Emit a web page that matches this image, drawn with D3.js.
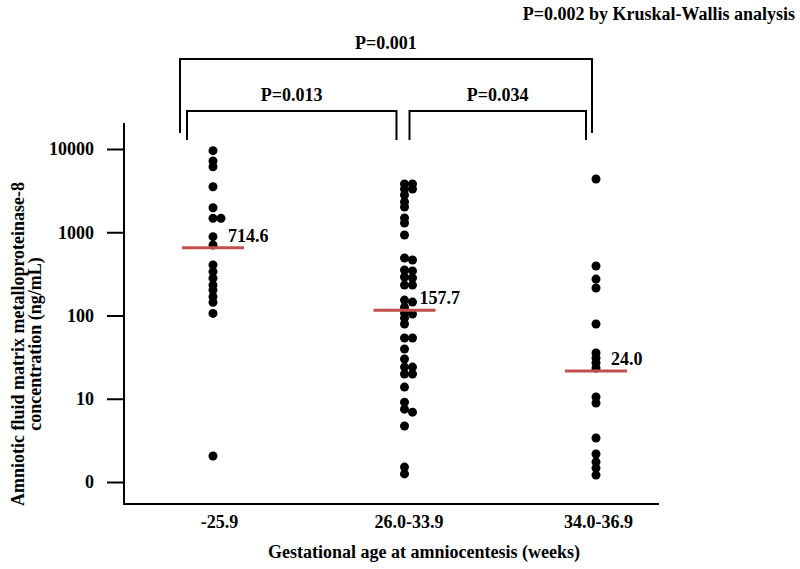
<!DOCTYPE html>
<html><head><meta charset="utf-8">
<script src="https://cdn.jsdelivr.net/npm/d3@7"></script>
<style>body{margin:0;background:#fff}svg{display:block}text{font-family:"Liberation Serif","Times New Roman",serif;font-weight:bold;fill:#000}</style>
</head><body>
<svg id="chart" width="800" height="569"></svg>
<script>
// ---- data ----
const categories = ["-25.9", "26.0-33.9", "34.0-36.9"];
const group1 = [9550, 7180, 6130, 3520, 1970, 1470, 1470, 885, 703, 405, 336, 280, 232, 202, 168, 144, 106, 2.05];
const group2 = [3800, 3800, 3310, 3310, 2800, 2310, 2010, 1483, 1291, 927, 491, 464, 352, 343, 290, 282, 232, 232,
                153, 145, 126, 107, 104, 93, 79, 53.7, 53.7, 39.6, 30, 24, 24, 19.8, 19.8, 13.8, 9.1, 7.5, 6.9, 4.7, 1.51, 1.25];
const group3 = [4360, 393, 274, 214, 79, 35.4, 30.9, 26.9, 23.4, 10.5, 8.9, 3.38, 2.17, 1.74, 1.47, 1.21];
const groups = [group1, group2, group3];
const medianLabels = ["714.6", "157.7", "24.0"];
const medianLevels = [650, 116, 21.5];
const tickValues = [1, 10, 100, 1000, 10000];
const tickLabels = ["0", "10", "100", "1000", "10000"];
const comparisonPairs = [[0, 2], [0, 1], [1, 2]];
const comparisonLabels = ["P=0.001", "P=0.013", "P=0.034"];
const overallLabel = "P=0.002 by Kruskal-Wallis analysis";
const xTitle = "Gestational age at amniocentesis (weeks)";
const yTitle = ["Amniotic fluid matrix metalloproteinase-8", "concentration (ng/mL)"];

// ---- layout ----
const FS = 18;
const svg = d3.select("#chart");
const x = d3.scalePoint().domain(categories).range([213, 596]);
const y = d3.scaleLog().domain([1, 10000]).range([482, 149]);
const axisLeft = 124, axisRight = 659, axisTop = 123, axisBottom = 504;

// axes lines
svg.append("line").attr("x1", axisLeft).attr("x2", axisLeft).attr("y1", axisTop).attr("y2", axisBottom)
  .attr("stroke", "#000").attr("stroke-width", 2);
svg.append("line").attr("x1", axisLeft - 1).attr("x2", axisRight).attr("y1", axisBottom).attr("y2", axisBottom)
  .attr("stroke", "#000").attr("stroke-width", 2);

// y axis ticks
const yAxis = d3.axisLeft(y).tickValues(tickValues).tickSize(17).tickPadding(13)
  .tickFormat((d, i) => tickLabels[i]);
const gy = svg.append("g").attr("transform", `translate(${axisLeft},0)`).call(yAxis);
gy.select(".domain").remove();
gy.selectAll(".tick line").attr("stroke", "#000").attr("stroke-width", 2);
gy.selectAll(".tick text").attr("font-size", FS).attr("font-family", "Liberation Serif").attr("font-weight", "bold").attr("fill", "#000");

// x axis labels
const xAxis = d3.axisBottom(x).tickSize(0).tickPadding(11);
const gx = svg.append("g").attr("transform", `translate(0,${axisBottom})`).call(xAxis);
gx.select(".domain").remove();
gx.selectAll(".tick text").attr("font-size", FS).attr("font-family", "Liberation Serif").attr("font-weight", "bold").attr("fill", "#000")
  .attr("dx", (d, i) => i === 0 ? 6 : (i === 1 ? 4 : 2));

// titles
svg.append("text").attr("x", 424).attr("y", 558).attr("text-anchor", "middle").attr("font-size", FS).text(xTitle);
yTitle.forEach((t, i) => {
  svg.append("text").attr("transform", `translate(${24 + i * 17},344) rotate(-90)`)
    .attr("text-anchor", "middle").attr("font-size", FS).text(t);
});

// dots (simple swarm: shift right when overlapping in the same column)
const r = 4.5, step = 8;
groups.forEach((vals, gi) => {
  const cx = x(categories[gi]);
  const pts = vals.map(v => ({ v, y: y(v) })).sort((a, b) => a.y - b.y);
  const placed = [];
  pts.forEach(p => {
    for (const off of [0, step, -step, 2 * step]) {
      if (placed.every(q => q.off !== off || Math.abs(q.y - p.y) >= 4.5)) { p.off = off; break; }
    }
    placed.push(p);
  });
  svg.append("g").selectAll("circle").data(placed).join("circle")
    .attr("cx", d => cx + d.off).attr("cy", d => d.y).attr("r", r).attr("fill", "#000");
});

// median lines and labels
categories.forEach((c, i) => {
  const cx = x(c), my = y(medianLevels[i]);
  svg.append("line").attr("x1", cx - 31).attr("x2", cx + 31).attr("y1", my).attr("y2", my)
    .attr("stroke", "#c0504d").attr("stroke-width", 3);
  svg.append("text").attr("x", cx + 15).attr("y", my - 6).attr("font-size", FS).text(medianLabels[i]);
});

// comparison brackets
const bracketTop = [59, 111, 111];
const bracketBottom = [133, 140, 140];
const leftOff = [-33, -26, 5];
const rightOff = [-4, -8, -10];
comparisonPairs.forEach((pr, i) => {
  const x1 = x(categories[pr[0]]) + leftOff[i];
  const x2 = x(categories[pr[1]]) + rightOff[i];
  svg.append("path").attr("d", `M${x1},${bracketBottom[i]}V${bracketTop[i]}H${x2}V${bracketBottom[i]}`)
    .attr("fill", "none").attr("stroke", "#000").attr("stroke-width", 2);
  svg.append("text").attr("x", (x1 + x2) / 2).attr("y", bracketTop[i] - 10).attr("text-anchor", "middle")
    .attr("font-size", FS).text(comparisonLabels[i]);
});

svg.append("text").attr("x", 795).attr("y", 20).attr("text-anchor", "end").attr("font-size", FS).text(overallLabel);
</script>
</body></html>
